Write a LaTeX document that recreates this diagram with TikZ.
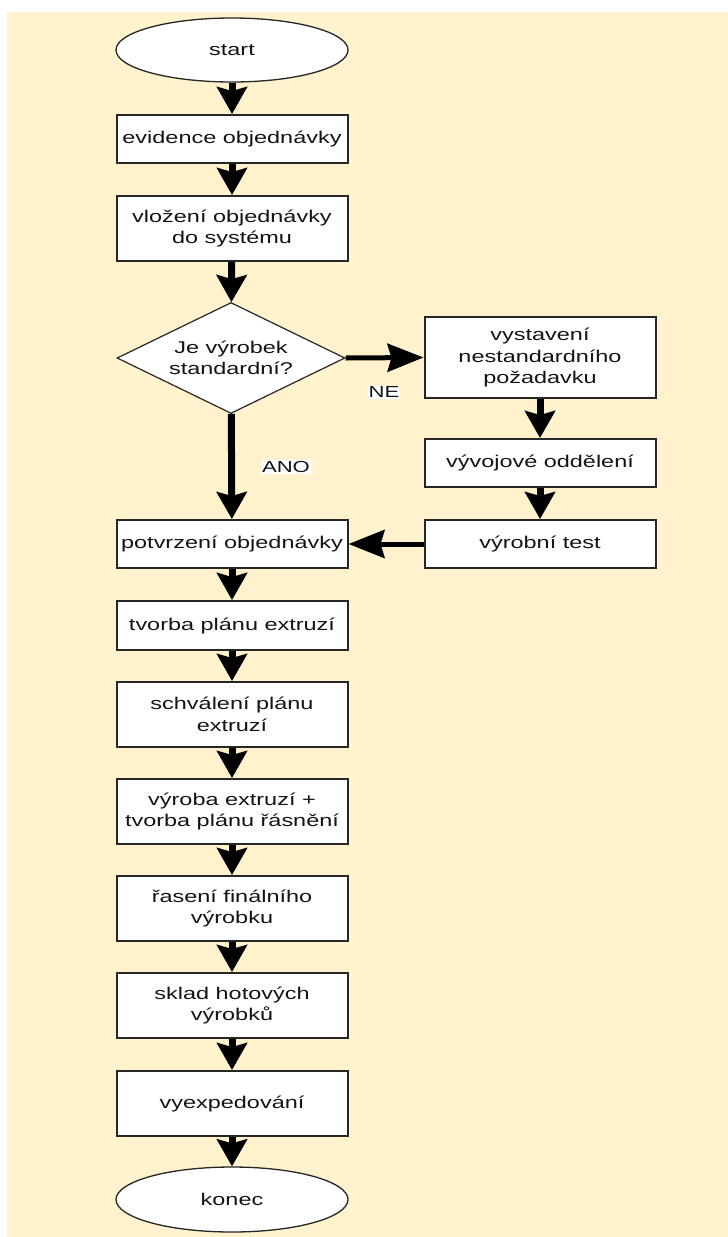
\documentclass[tikz,border=0pt]{standalone}
\usepackage{fontspec}
\setmainfont[FakeStretch=1.38]{Liberation Sans}
\usetikzlibrary{shapes.geometric,arrows.meta}
\definecolor{paper}{HTML}{FFF2CC}
\definecolor{edge}{HTML}{262626}
\tikzset{
  every node/.style={font=\fontsize{17}{21.5}\selectfont, text=black!92},
  proc/.style={draw=edge, line width=2pt, fill=white, minimum width=231pt,
    inner sep=0pt, align=center},
  term/.style={ellipse, draw=edge, line width=1.3pt, fill=white,
    minimum width=232pt, minimum height=64pt, inner sep=0pt},
  decision/.style={diamond, aspect=2, draw=edge, line width=1.2pt, fill=white,
    minimum width=228pt, minimum height=111pt, inner sep=0pt, align=center},
  vflow/.style={line width=7pt, -{Stealth[length=27pt,width=30pt,inset=4pt]}},
  hflow/.style={line width=5pt, -{Stealth[length=36pt,width=28pt,inset=4pt]}},
  tag/.style={fill=white, inner sep=1pt, font=\fontsize{16}{19}\selectfont}
}
\begin{document}
\begin{tikzpicture}[x=1pt, y=-1pt]
  % page and paper
  \fill[white] (0,0) rectangle (728,1237);
  \fill[paper] (7,12) rectangle (728,1237);

  % main column
  \node[term] (start) at (232,50) {start};
  \node[proc, minimum height=48pt] (evid) at (232,139) {evidence objednávky};
  \node[proc, minimum height=65pt] (vloz) at (232,228.5) {vložení objednávky\\do systému};
  \node[decision] (dec) at (231,358) {Je výrobek\\standardní?};
  \node[proc, minimum height=48pt] (potv) at (232,544) {potvrzení objednávky};
  \node[proc, minimum height=49pt] (plan) at (232,625.5) {tvorba plánu extruzí};
  \node[proc, minimum height=65pt] (schv) at (232,714.5) {schválení plánu\\extruzí};
  \node[proc, minimum height=65pt] (vyro) at (232,811.5) {výroba extruzí +\\tvorba plánu řásnění};
  \node[proc, minimum height=65pt] (rase) at (232,908.5) {řasení finálního\\výrobku};
  \node[proc, minimum height=65pt] (skla) at (232,1005.5) {sklad hotových\\výrobků};
  \node[proc, minimum height=65pt] (expe) at (232,1103.5) {vyexpedování};
  \node[term, minimum height=65pt] (konec) at (232,1199.5) {konec};

  % side branch
  \node[proc, minimum height=81pt] (nest) at (540,357.5) {vystavení\\nestandardního\\požadavku};
  \node[proc, minimum height=48pt] (vyvo) at (540,463) {vývojové oddělení};
  \node[proc, minimum height=48pt] (test) at (540,544) {výrobní test};

  % connectors
  \draw[vflow] (start) -- (evid);
  \draw[vflow] (evid) -- (vloz);
  \draw[vflow] (vloz) -- (dec);
  \draw[vflow] (dec) -- (potv);
  \draw[hflow] (dec.east) -- (nest.west);
  \draw[vflow] (nest) -- (vyvo);
  \draw[vflow] (vyvo) -- (test);
  \draw[hflow] (test) -- (potv);
  \draw[vflow] (potv) -- (plan);
  \draw[vflow] (plan) -- (schv);
  \draw[vflow] (schv) -- (vyro);
  \draw[vflow] (vyro) -- (rase);
  \draw[vflow] (rase) -- (skla);
  \draw[vflow] (skla) -- (expe);
  \draw[vflow] (expe) -- (konec);

  % branch labels
  \node[tag] (ne) at (384,392) {NE};
  \node[tag] (ano) at (286,467) {ANO};
\end{tikzpicture}
\end{document}
